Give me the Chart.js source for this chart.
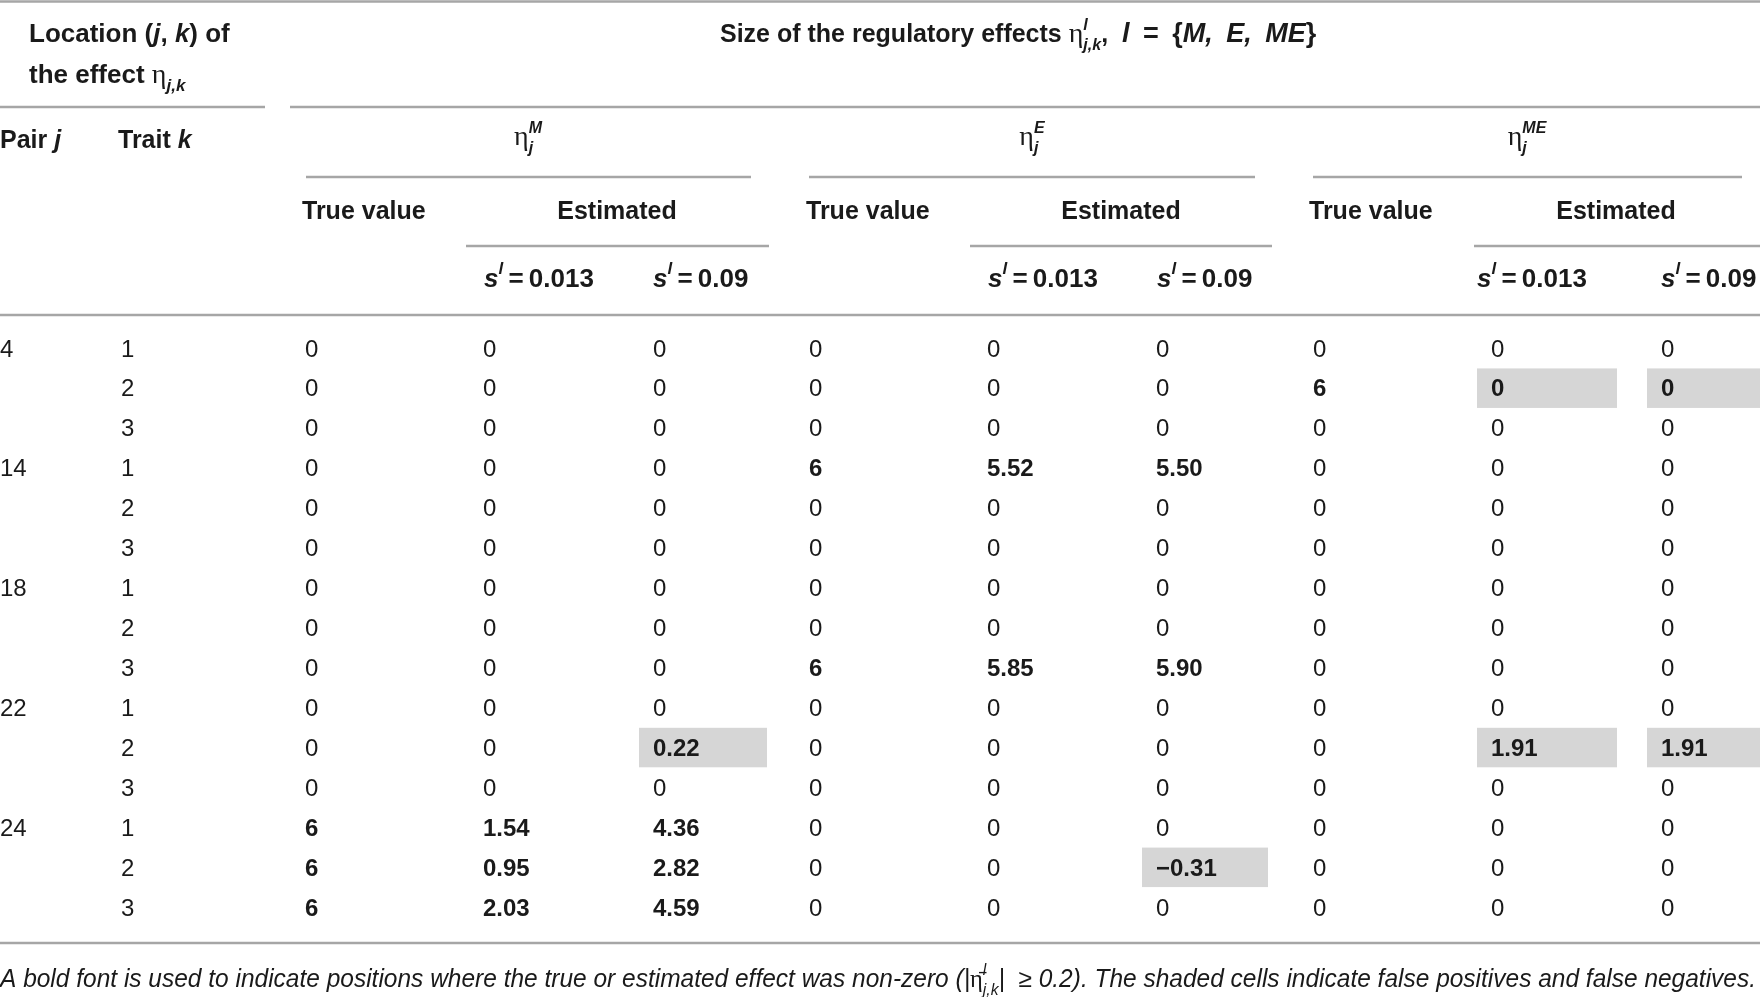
<!DOCTYPE html>
<html>
<head>
<meta charset="utf-8">
<script src="https://cdn.jsdelivr.net/npm/chart.js@4.4.1/dist/chart.umd.min.js"></script>
<style>
  html, body { margin: 0; padding: 0; background: #fff; }
  #wrap { width: 1760px; height: 997px; }
</style>
</head>
<body>
<div id="wrap"><canvas id="tableChart" width="1760" height="997"></canvas></div>
<script>
// table values, one array per column, rows = (pair, trait)
const pairs    = ['4', '', '', '14', '', '', '18', '', '', '22', '', '', '24', '', ''];
const traits   = ['1', '2', '3', '1', '2', '3', '1', '2', '3', '1', '2', '3', '1', '2', '3'];
const trueM    = [0, 0, 0, 0, 0, 0, 0, 0, 0, 0, 0, 0, 6, 6, 6];
const estM013  = [0, 0, 0, 0, 0, 0, 0, 0, 0, 0, 0, 0, 1.54, 0.95, 2.03];
const estM09   = [0, 0, 0, 0, 0, 0, 0, 0, 0, 0, 0.22, 0, 4.36, 2.82, 4.59];
const trueE    = [0, 0, 0, 6, 0, 0, 0, 0, 6, 0, 0, 0, 0, 0, 0];
const estE013  = [0, 0, 0, 5.52, 0, 0, 0, 0, 5.85, 0, 0, 0, 0, 0, 0];
const estE09   = [0, 0, 0, 5.50, 0, 0, 0, 0, 5.90, 0, 0, 0, 0, -0.31, 0];
const trueME   = [0, 6, 0, 0, 0, 0, 0, 0, 0, 0, 0, 0, 0, 0, 0];
const estME013 = [0, 0, 0, 0, 0, 0, 0, 0, 0, 0, 1.91, 0, 0, 0, 0];
const estME09  = [0, 0, 0, 0, 0, 0, 0, 0, 0, 0, 1.91, 0, 0, 0, 0];
// false positives / false negatives: [row, column]
const shadedCells = [[1, 'estME013'], [1, 'estME09'], [10, 'estM09'], [10, 'estME013'], [10, 'estME09'], [13, 'estE09']];

// layout (pixel units of the chart scales)
const W = 1760, H = 997;
const ROW0 = 348, ROW_H = 39.93;
const colX = {
  pair: 0, trait: 121,
  trueM: 305, estM013: 483, estM09: 653,
  trueE: 809, estE013: 987, estE09: 1156,
  trueME: 1313, estME013: 1491, estME09: 1661
};
const shadeW = { estM09: 128, estE09: 126, estME013: 140, estME09: 128 };
const SANS = "'Liberation Sans', Arial, Helvetica, sans-serif";
const SERIF = "'Liberation Serif', 'Times New Roman', serif";
const RULE = '#a6a6a6';
const SHADE = '#d6d6d6';
const INK = '#1a1a1a';

const columns = {
  pair: pairs, trait: traits,
  trueM, estM013, estM09, trueE, estE013, estE09, trueME, estME013, estME09
};

function fmt(v) {
  if (typeof v === 'string') return v;
  if (Number.isInteger(v)) return String(v);
  return (v < 0 ? '\u2212' : '') + Math.abs(v).toFixed(2);
}
function isShaded(row, key) {
  return shadedCells.some(c => c[0] === row && c[1] === key);
}

const datasets = Object.keys(columns).map(key => ({
  label: key,
  pointRadius: 0,
  data: columns[key].map((v, i) => ({
    x: colX[key],
    y: ROW0 + i * ROW_H,
    text: fmt(v),
    bold: (typeof v === 'number' && Math.abs(v) >= 0.2) || isShaded(i, key)
  }))
}));

// rich text: runs of {t, b, i, serif, sup, sub, stack, size}
function runFont(r, base) {
  const bold = r.b !== undefined ? r.b : base.bold;
  const ital = r.i !== undefined ? r.i : base.italic;
  let size = r.size || base.size;
  if (r.sup || r.sub) size = Math.round(size * 0.64);
  return (ital ? 'italic ' : '') + (bold ? 'bold ' : '') + size + 'px ' + (r.serif ? SERIF : SANS);
}
function drawRuns(ctx, runs, x, y, base, align, fit) {
  const ws = runs.map(r => { ctx.font = runFont(r, base); return ctx.measureText(r.t).width; });
  let total = 0, held = 0;
  runs.forEach((r, k) => {
    if (r.stack) { held = ws[k]; return; }
    total += Math.max(ws[k], held); held = 0;
  });
  const sc = fit ? fit / total : 1;
  const x0 = align === 'center' ? x - total * sc / 2 : x;
  ctx.save();
  ctx.translate(x0, y);
  ctx.scale(sc, 1);
  ctx.fillStyle = INK;
  ctx.textBaseline = 'alphabetic';
  ctx.textAlign = 'left';
  let cx = 0; held = 0;
  runs.forEach((r, k) => {
    ctx.font = runFont(r, base);
    const s = r.size || base.size;
    const dy = r.sup ? -0.5 * s : r.sub ? 0.3 * s : 0;
    ctx.fillText(r.t, cx, dy);
    if (r.stack) { held = ws[k]; return; }
    cx += Math.max(ws[k], held); held = 0;
  });
  ctx.restore();
}

const HB = { bold: true, italic: false, size: 25 };
const eta = { t: '\u03b7', serif: true, b: false, i: false, size: 28 };

const tablePlugin = {
  id: 'tableLayout',
  beforeDatasetsDraw(chart) {
    const ctx = chart.ctx;
    const xs = chart.scales.x, ys = chart.scales.y;
    const px = v => xs.getPixelForValue(v), py = v => ys.getPixelForValue(v);

    // shaded cells
    ctx.save();
    ctx.fillStyle = SHADE;
    shadedCells.forEach(([row, key]) => {
      const yc = ROW0 + row * ROW_H;
      const x1 = px(colX[key] - 14), x2 = px(colX[key] - 14 + shadeW[key]);
      const y1 = py(yc - 19.5), y2 = py(yc + 20);
      ctx.fillRect(x1, y1, x2 - x1, y2 - y1);
    });

    // rules
    ctx.strokeStyle = RULE;
    ctx.lineWidth = 2.5;
    const hline = (a, b, y) => {
      ctx.beginPath(); ctx.moveTo(px(a), py(y)); ctx.lineTo(px(b), py(y)); ctx.stroke();
    };
    hline(0, W, 1.5);
    hline(0, 265, 107); hline(290, W, 107);
    hline(306, 751, 177); hline(809, 1255, 177); hline(1313, 1742, 177);
    hline(466, 769, 246); hline(970, 1272, 246); hline(1474, W, 246);
    hline(0, W, 315);
    hline(0, W, 943);
    ctx.restore();

    // header text
    const HL = { bold: true, italic: false, size: 26 };
    drawRuns(ctx, [
      { t: 'Location (' }, { t: 'j', i: true }, { t: ', ' }, { t: 'k', i: true }, { t: ') of' }
    ], px(29), py(42), HL);
    drawRuns(ctx, [
      { t: 'the effect ' }, eta, { t: 'j,k', sub: true, i: true }
    ], px(29), py(83), HL);
    drawRuns(ctx, [
      { t: 'Size of the regulatory effects ' }, eta,
      { t: 'l', sup: true, i: true, stack: true }, { t: 'j,k', sub: true, i: true },
      { t: ',  ' }, { t: 'l', i: true, size: 27 }, { t: '\u2002=\u2002{', size: 27 },
      { t: 'M,\u2002E,\u2002ME', i: true, size: 27 }, { t: '}', size: 27 }
    ], px(720), py(42), HB);
    drawRuns(ctx, [{ t: 'Pair ' }, { t: 'j', i: true }], px(0), py(148), HB);
    drawRuns(ctx, [{ t: 'Trait ' }, { t: 'k', i: true }], px(118), py(148), HB);

    const groups = [
      { sup: 'M', c: 528, tv: 302, est: 617, s1: 484, s2: 653 },
      { sup: 'E', c: 1032, tv: 806, est: 1121, s1: 988, s2: 1157 },
      { sup: 'ME', c: 1527, tv: 1309, est: 1616, s1: 1477, s2: 1661 }
    ];
    const HS = { bold: true, italic: false, size: 26 };
    groups.forEach(g => {
      drawRuns(ctx, [eta, { t: g.sup, sup: true, i: true, stack: true }, { t: 'j', sub: true, i: true }],
        px(g.c), py(145), HB, 'center');
      drawRuns(ctx, [{ t: 'True value' }], px(g.tv), py(219), HB);
      drawRuns(ctx, [{ t: 'Estimated' }], px(g.est), py(219), HB, 'center');
      [[g.s1, '0.013'], [g.s2, '0.09']].forEach(([x, v]) => {
        drawRuns(ctx, [{ t: 's', i: true }, { t: 'l', sup: true, i: true }, { t: '\u2009=\u2009' + v }],
          px(x), py(287), HS);
      });
    });

    // footnote
    drawRuns(ctx, [
      { t: 'A bold font is used to indicate positions where the true or estimated effect was non-zero (|' },
      { t: '\u03b7\u0304', serif: true, i: false },
      { t: 'l', sup: true, stack: true }, { t: 'j,k', sub: true },
      { t: '|  \u2265 0.2). The shaded cells indicate false positives and false negatives.' }
    ], px(0), py(987), { bold: false, italic: true, size: 25 }, 'left', 1756);
  },
  afterDatasetsDraw(chart) {
    const ctx = chart.ctx;
    ctx.save();
    ctx.fillStyle = INK;
    ctx.textAlign = 'left';
    ctx.textBaseline = 'alphabetic';
    chart.data.datasets.forEach((ds, di) => {
      const meta = chart.getDatasetMeta(di);
      meta.data.forEach((el, i) => {
        const cell = ds.data[i];
        if (!cell.text) return;
        ctx.font = (cell.bold ? 'bold ' : '') + '24px ' + SANS;
        ctx.fillText(cell.text, el.x, el.y + 8.5);
      });
    });
    ctx.restore();
  }
};

new Chart(document.getElementById('tableChart').getContext('2d'), {
  type: 'scatter',
  data: { datasets },
  options: {
    responsive: false,
    animation: false,
    devicePixelRatio: 1,
    layout: { padding: 0 },
    scales: {
      x: { type: 'linear', min: 0, max: W, display: false },
      y: { type: 'linear', min: 0, max: H, reverse: true, display: false }
    },
    plugins: {
      legend: { display: false },
      tooltip: { enabled: false }
    }
  },
  plugins: [tablePlugin]
});
</script>
</body>
</html>
